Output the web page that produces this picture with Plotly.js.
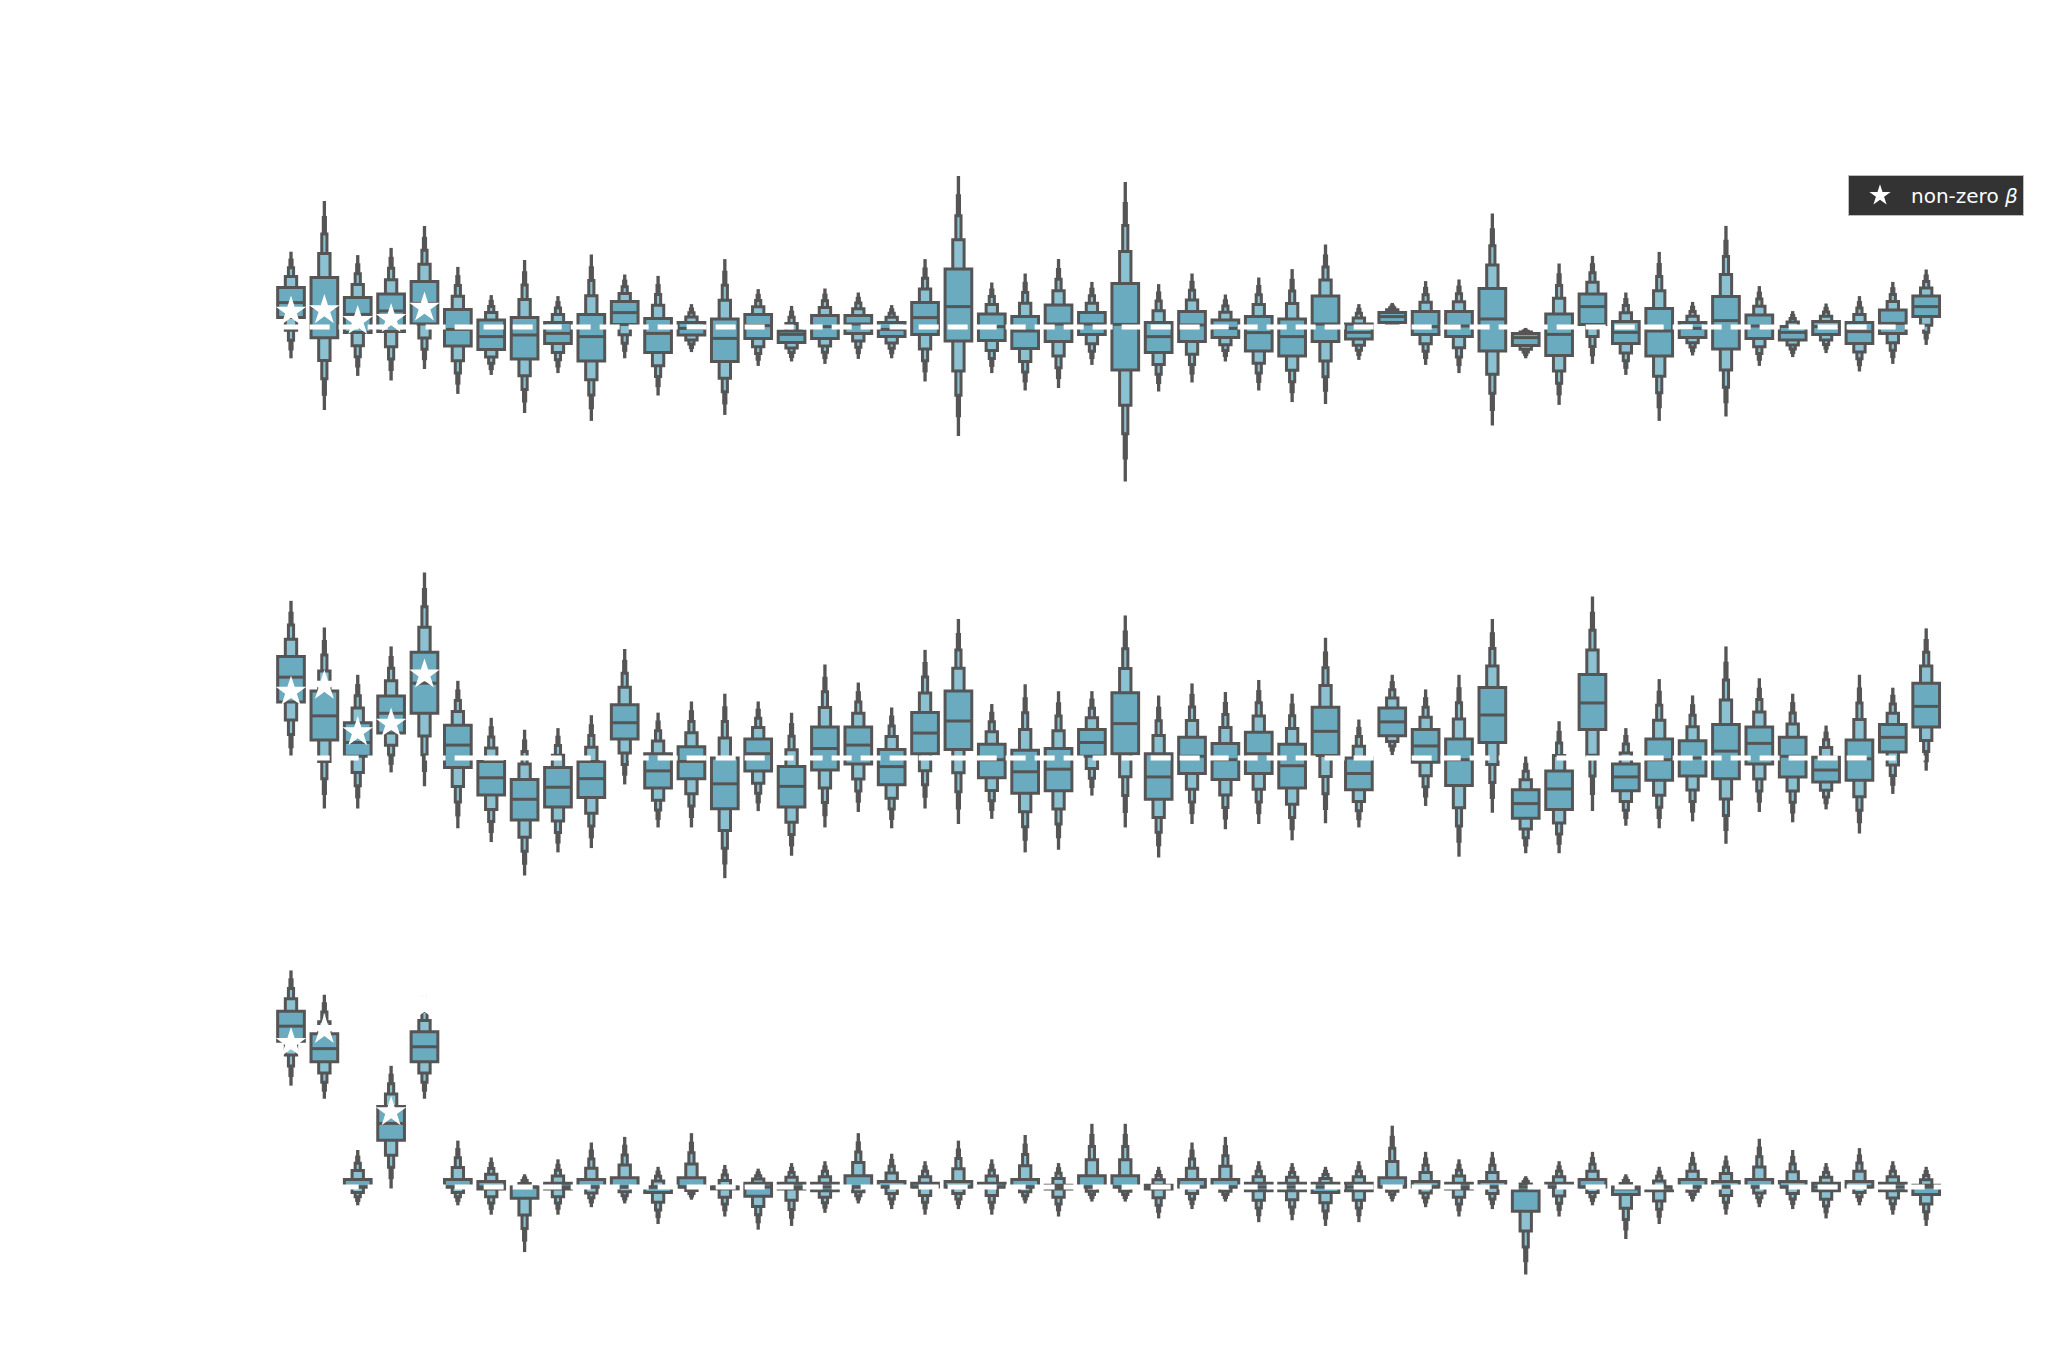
<!DOCTYPE html>
<html>
<head>
<meta charset="utf-8">
<script src="https://cdn.plot.ly/plotly-3.0.1.min.js"></script>
<style>html,body{margin:0;padding:0;background:#fff;}#chart{width:2057px;height:1350px;}</style>
</head>
<body>
<div id="chart"></div>
<script>
// ---------------- data (letter-value summaries per coefficient) ----------------
const COEF = Array.from({length: 50}, (_, i) => i);
const BETA_IDX = [0, 1, 2, 3, 4];
const BETA = [0.77, 0.84, 0.30, 0.40, 0.97];
const LEGEND_LABEL = 'non-zero <i>β</i>';

// Panel 1
const P1_MED = [1.22,0.97,0.63,0.80,1.18,-0.12,-0.48,-0.40,-0.32,-0.48, 0.72,-0.32,-0.07,-0.57,0.07,-0.37,0.02,0.15,-0.12,0.47, 1.02,0.02,-0.20,0.15,0.15,0.13,-0.48,0.10,-0.07,-0.28, -0.48,0.15,-0.27,0.52,0.02,0.05,0.40,-0.53,-0.37,1.02, -0.27,-0.20,-0.07,0.32,0.05,-0.27,0.02,-0.23,0.18,1.02];
const P1_Q1  = [0.47,-0.54,-0.27,-0.23,0.15,-0.95,-1.12,-1.60,-0.82,-1.70, 0.13,-1.27,-0.40,-1.73,-0.57,-0.77,-0.57,-0.32,-0.48,-0.37, -0.70,-0.68,-1.07,-0.73,-0.37,-2.15,-1.28,-0.73,-0.53,-1.20, -1.45,-0.73,-0.60,0.23,-0.37,-0.48,-1.20,-0.93,-1.43,0.13, -0.82,-1.45,-0.53,-1.10,-0.57,-0.65,-0.37,-0.82,-0.32,0.52];
const P1_Q3  = [1.97,2.47,1.47,1.65,2.27,0.88,0.35,0.48,0.23,0.63, 1.27,0.43,0.23,0.40,0.63,-0.20,0.57,0.57,0.23,1.23, 2.90,0.65,0.52,1.10,0.72,2.18,0.23,0.77,0.35,0.52, 0.40,1.55,0.15,0.73,0.77,0.77,1.93,-0.32,0.65,1.65, 0.27,0.93,0.23,1.52,0.60,0.02,0.27,0.22,0.85,1.55];
const P1_LO  = [-1.49,-4.07,-2.37,-2.60,-2.02,-3.27,-2.32,-4.23,-2.23,-4.62, -1.49,-3.35,-1.18,-4.32,-1.87,-1.65,-1.77,-1.52,-1.49,-2.65, -5.37,-2.23,-3.10,-2.98,-1.82,-7.65,-3.15,-2.70,-1.65,-3.10, -3.68,-3.77,-1.57,0.05,-1.82,-2.23,-4.85,-1.49,-3.82,-1.77, -2.32,-4.62,-1.35,-4.40,-1.87,-1.43,-1.23,-2.15,-1.77,-0.82];
const P1_HI  = [3.69,6.22,3.52,3.88,4.97,2.93,1.52,3.27,1.47,3.55, 2.55,2.48,1.07,3.32,1.82,0.98,1.85,1.65,1.02,3.32, 7.48,2.15,2.60,3.32,2.18,7.18,2.07,2.60,1.55,2.40, 2.82,4.05,1.07,1.13,2.22,2.30,5.60,-0.12,3.10,3.48, 1.65,3.68,1.18,4.98,1.97,0.72,1.10,1.47,2.18,2.80];

// Panel 2
const P2_MED = [0.94,0.49,0.18,0.52,0.87,0.15,-0.23,-0.48,-0.34,-0.24, 0.41,-0.15,-0.04,-0.30,0.05,-0.33,0.11,0.15,-0.10,0.29, 0.43,-0.02,-0.16,-0.13,0.18,0.40,-0.22,0.02,-0.02,0.05, -0.09,0.31,-0.18,0.42,0.14,-0.02,0.50,-0.53,-0.36,0.64, -0.22,-0.02,0.00,0.08,0.17,0.02,-0.14,-0.01,0.24,0.60];
const P2_Q1  = [0.65,0.21,0.02,0.29,0.52,-0.11,-0.43,-0.72,-0.57,-0.46, 0.22,-0.35,-0.24,-0.59,-0.15,-0.57,-0.14,-0.07,-0.31,0.05, 0.10,-0.23,-0.41,-0.38,0.02,0.05,-0.48,-0.18,-0.25,-0.18, -0.35,0.03,-0.37,0.26,-0.05,-0.32,0.18,-0.70,-0.60,0.33, -0.38,-0.26,-0.21,-0.24,-0.07,-0.22,-0.28,-0.26,0.07,0.36];
const P2_Q3  = [1.18,0.78,0.41,0.72,1.23,0.38,-0.04,-0.25,-0.11,-0.04, 0.62,0.05,0.13,0.00,0.22,-0.10,0.36,0.36,0.10,0.53, 0.78,0.16,0.09,0.11,0.33,0.76,0.05,0.24,0.17,0.30, 0.16,0.59,0.00,0.58,0.33,0.22,0.82,-0.37,-0.15,0.97, -0.07,0.22,0.20,0.39,0.36,0.24,0.01,0.21,0.39,0.87];
const P2_LO  = [0.00,-0.57,-0.57,-0.15,-0.31,-0.80,-0.96,-1.35,-1.08,-1.03, -0.29,-0.79,-0.79,-1.38,-0.60,-1.12,-0.79,-0.61,-0.80,-0.57, -0.75,-0.69,-1.08,-1.05,-0.42,-0.79,-1.14,-0.75,-0.81,-0.75, -0.94,-0.74,-0.79,0.05,-0.54,-1.13,-0.62,-1.09,-1.09,-0.60, -0.77,-0.80,-0.72,-0.98,-0.61,-0.73,-0.58,-0.86,-0.40,-0.13];
const P2_HI  = [1.81,1.50,0.95,1.28,2.14,0.88,0.45,0.31,0.33,0.48, 1.25,0.51,0.64,0.73,0.64,0.51,1.07,0.86,0.57,1.24, 1.60,0.61,0.84,0.76,0.76,1.64,0.71,0.85,0.75,0.89, 0.73,1.38,0.43,0.95,0.78,0.95,1.60,0.00,0.41,1.86, 0.33,0.90,0.71,1.28,0.91,0.73,0.36,0.95,0.80,1.49];

// Panel 3
const P3_MED = [0.86,0.74,0.00,0.34,0.75,0.00,0.00,0.00,0.00,0.00, 0.00,0.00,0.00,0.00,0.00,0.00,0.00,0.00,0.00,0.00, 0.00,0.00,0.00,0.00,0.00,0.00,0.00,0.00,0.00,0.00, 0.00,0.00,0.00,0.00,0.00,0.00,0.00,-0.02,0.00,0.00, -0.01,0.00,0.00,0.00,0.00,0.00,0.00,0.00,0.00,0.00];
const P3_Q1  = [0.78,0.67,0.00,0.25,0.67,0.00,-0.01,-0.06,-0.01,0.00, 0.00,-0.03,0.00,-0.01,-0.05,-0.01,-0.02,0.00,0.00,0.00, 0.00,0.00,0.00,-0.01,0.00,0.00,-0.01,0.00,0.00,-0.02, -0.02,-0.03,-0.02,0.00,0.00,-0.01,0.00,-0.13,0.00,0.00, -0.04,-0.02,0.00,0.00,0.00,0.00,-0.02,0.00,-0.02,-0.04];
const P3_Q3  = [0.94,0.82,0.04,0.43,0.83,0.04,0.03,0.00,0.02,0.04, 0.05,0.00,0.05,0.00,0.02,0.02,0.02,0.06,0.03,0.02, 0.03,0.02,0.04,0.01,0.06,0.06,0.01,0.04,0.04,0.02, 0.02,0.02,0.02,0.05,0.03,0.02,0.03,0.00,0.02,0.04, 0.00,0.00,0.04,0.03,0.04,0.03,0.02,0.03,0.02,0.01];
const P3_LO  = [0.55,0.48,-0.09,0.00,0.48,-0.09,-0.14,-0.34,-0.14,-0.10, -0.08,-0.19,-0.06,-0.15,-0.22,-0.20,-0.13,-0.08,-0.11,-0.14, -0.11,-0.14,-0.08,-0.15,-0.07,-0.07,-0.16,-0.11,-0.07,-0.18, -0.17,-0.20,-0.18,-0.07,-0.10,-0.15,-0.11,-0.46,-0.15,-0.09, -0.27,-0.19,-0.07,-0.14,-0.10,-0.11,-0.16,-0.09,-0.14,-0.20];
const P3_HI  = [1.15,1.02,0.19,0.64,1.02,0.24,0.15,0.06,0.14,0.23, 0.26,0.10,0.28,0.11,0.09,0.12,0.13,0.28,0.17,0.13, 0.24,0.14,0.27,0.12,0.33,0.33,0.10,0.23,0.26,0.13, 0.12,0.10,0.13,0.32,0.18,0.14,0.18,0.05,0.13,0.18, 0.06,0.10,0.18,0.16,0.25,0.19,0.12,0.20,0.13,0.10];

// ---------------- styling ----------------
const BOX_COLOR = '#6aabbf';
const LV_COLOR = '#8bc1d0';
const EDGE = '#555555';
const EDGE_W = 3;
// letter-value glyph: relative depth of each level between quartile box and extreme (normal letter values)
const LV_FRAC = [0, 0.32, 0.58, 0.80, 1.0];
const LV_WIDTH = [0.8, 0.34, 0.155, 0.066, 0.01];

const PANELS = [
  {med: P1_MED, q1: P1_Q1, q3: P1_Q3, lo: P1_LO, hi: P1_HI, xa: 'x',  ya: 'y'},
  {med: P2_MED, q1: P2_Q1, q3: P2_Q3, lo: P2_LO, hi: P2_HI, xa: 'x2', ya: 'y2'},
  {med: P3_MED, q1: P3_Q1, q3: P3_Q3, lo: P3_LO, hi: P3_HI, xa: 'x3', ya: 'y3'}
];

const traces = [];
PANELS.forEach((p, pi) => {
  for (let k = LV_FRAC.length - 1; k >= 0; k--) {
    const f = LV_FRAC[k];
    const base = COEF.map(i => p.q1[i] - f * (p.q1[i] - p.lo[i]));
    const top = COEF.map(i => p.q3[i] + f * (p.hi[i] - p.q3[i]));
    traces.push({
      type: 'bar', x: COEF, base: base, y: top.map((t, j) => t - base[j]),
      width: LV_WIDTH[k],
      marker: {color: k === 0 ? BOX_COLOR : LV_COLOR, line: {color: EDGE, width: EDGE_W}},
      xaxis: p.xa, yaxis: p.ya, showlegend: false, hoverinfo: 'skip'
    });
  }
  // medians
  const mx = [], my = [];
  COEF.forEach(i => { mx.push(i - LV_WIDTH[0] / 2, i + LV_WIDTH[0] / 2, null); my.push(p.med[i], p.med[i], null); });
  traces.push({type: 'scatter', mode: 'lines', x: mx, y: my, line: {color: EDGE, width: EDGE_W},
    xaxis: p.xa, yaxis: p.ya, showlegend: false, hoverinfo: 'skip'});
  // zero reference
  traces.push({type: 'scatter', mode: 'lines', x: [-9, 53], y: [0, 0],
    line: {color: '#ffffff', width: 5, dash: '20px,9px'},
    xaxis: p.xa, yaxis: p.ya, showlegend: false, hoverinfo: 'skip'});
  // true non-zero coefficients
  traces.push({type: 'scatter', mode: 'markers', x: BETA_IDX, y: BETA, name: LEGEND_LABEL,
    marker: {symbol: 'star', size: 23, color: '#ffffff', line: {width: 0}},
    xaxis: p.xa, yaxis: p.ya, showlegend: pi === 0, hoverinfo: 'skip'});
});

const hidden = {showgrid: false, zeroline: false, showticklabels: false, showline: false, ticks: '', fixedrange: true};
const XR = [-8.72, 52.92];
const layout = {
  width: 2057, height: 1350,
  margin: {l: 0, r: 0, t: 0, b: 0, autoexpand: false},
  paper_bgcolor: '#ffffff', plot_bgcolor: 'rgba(0,0,0,0)',
  barmode: 'overlay', bargap: 0,
  xaxis:  Object.assign({}, hidden, {range: XR, domain: [0, 1], anchor: 'y'}),
  xaxis2: Object.assign({}, hidden, {range: XR, domain: [0, 1], anchor: 'y2'}),
  xaxis3: Object.assign({}, hidden, {range: XR, domain: [0, 1], anchor: 'y3'}),
  yaxis:  Object.assign({}, hidden, {range: [-8.4, 8.85], domain: [0.63333, 0.88889], anchor: 'x'}),
  yaxis2: Object.assign({}, hidden, {range: [-1.593, 2.3605], domain: [0.33704, 0.58889], anchor: 'x2'}),
  yaxis3: Object.assign({}, hidden, {range: [-0.5508, 1.2674], domain: [0.04444, 0.2963], anchor: 'x3'}),
  showlegend: true,
  legend: {
    x: 0.8984, y: 0.8704, xanchor: 'left', yanchor: 'top',
    bgcolor: '#333333', bordercolor: '#bdbdbd', borderwidth: 1,
    font: {family: 'DejaVu Sans', size: 20, color: '#ffffff'},
    itemwidth: 52
  },
  font: {family: 'DejaVu Sans'}
};

Plotly.newPlot('chart', traces, layout, {staticPlot: true, displayModeBar: false});
</script>
</body>
</html>
